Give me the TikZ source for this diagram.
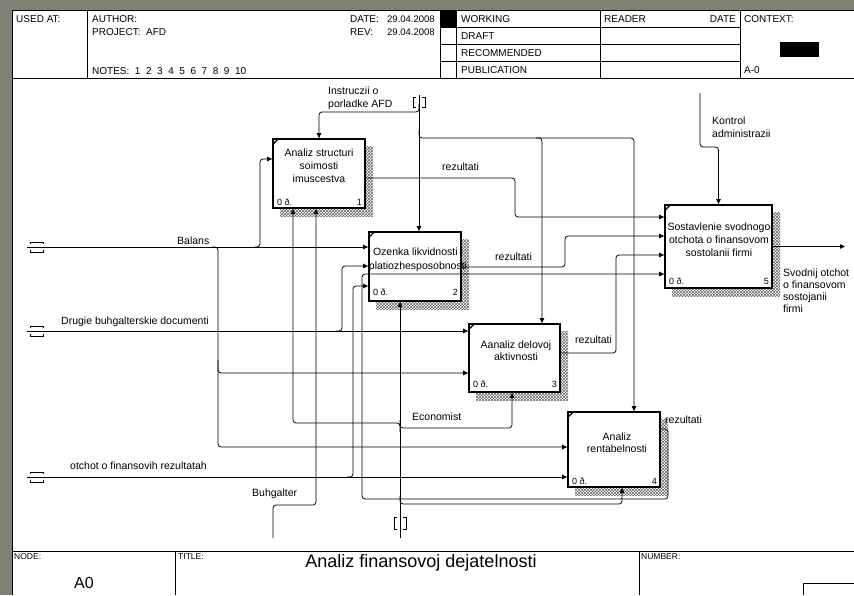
\documentclass[tikz,border=0pt]{standalone}
\usepackage{fontspec}
\setmainfont{Liberation Sans}
\usetikzlibrary{arrows.meta,patterns}
\definecolor{bggrey}{RGB}{126,129,116}
\begin{document}
\begin{tikzpicture}[x=1pt,y=-1pt,
  conn/.style={line width=0.75pt, rounded corners=3pt},
  arr/.style={conn,-{Triangle[length=5pt,width=4.5pt]}},
  fbox/.style={draw, line width=1.8pt, fill=white, inner sep=0pt},
  shade/.style={pattern=crosshatch, pattern color=black!60},
  hline/.style={line width=0.7pt},
  lbl/.style={font=\fontsize{10.5}{12.5}\selectfont, inner sep=0pt},
  hd/.style={font=\fontsize{10}{11}\selectfont, inner sep=0pt, anchor=west},
  num/.style={font=\fontsize{9}{10}\selectfont, inner sep=0pt}]
\useasboundingbox (0,0) rectangle (854,595);
% page
\fill[bggrey] (0,0) rectangle (854,595);
\fill[white] (12,10) rectangle (854,595);
\draw[hline] (12,595) -- (12,10) -- (854,10);
% header frame
\draw[hline] (12,78) -- (854,78);
\draw[hline] (87,10) -- (87,78);
\draw[hline] (440,10) -- (440,78);
\draw[hline] (456,10) -- (456,78);
\draw[hline] (600,10) -- (600,78);
\draw[hline] (740,10) -- (740,78);
\draw[hline] (440,27) -- (740,27);
\draw[hline] (440,44) -- (740,44);
\draw[hline] (440,61) -- (740,61);
\fill (440,10) rectangle (456,27);
\fill (780,42) rectangle (819,57);
% header texts
\node[hd] (usedat) at (16,19) {USED AT:};
\node[hd] (author) at (92,19) {AUTHOR:};
\node[hd] (project) at (92,32) {PROJECT:\ \ AFD};
\node[hd] (notes) at (92,71) {NOTES:\ \ 1\ \ 2\ \ 3\ \ 4\ \ 5\ \ 6\ \ 7\ \ 8\ \ 9\ \ 10};
\node[hd] (datel) at (350,19) {DATE:};
\node[hd,font=\fontsize{9.5}{11}\selectfont] (datev) at (387,19) {29.04.2008};
\node[hd] (revl) at (350,32) {REV:};
\node[hd,font=\fontsize{9.5}{11}\selectfont] (revv) at (387,32) {29.04.2008};
\node[hd] (working) at (461,19) {WORKING};
\node[hd] (draft) at (461,36) {DRAFT};
\node[hd] (recom) at (461,53) {RECOMMENDED};
\node[hd] (publ) at (461,70) {PUBLICATION};
\node[hd] (reader) at (604,19) {READER};
\node[hd,anchor=east] (rdate) at (736,19) {DATE};
\node[hd] (context) at (744,19) {CONTEXT:};
\node[hd] (actx) at (744,70) {A-0};
% footer
\draw[hline] (12,551) -- (854,551);
\draw[hline] (175,551) -- (175,595);
\draw[hline] (639,551) -- (639,595);
\draw[hline] (803,595) -- (803,583) -- (854,583);
\node[hd,font=\fontsize{8.5}{10}\selectfont] (nodel) at (14,557) {NODE:};
\node[inner sep=0pt,font=\fontsize{16}{18}\selectfont] (nodev) at (84,583) {A0};
\node[hd,font=\fontsize{8.5}{10}\selectfont] (titlel) at (178,557) {TITLE:};
\node[inner sep=0pt,font=\fontsize{18}{20}\selectfont] (title) at (421,563) {Analiz finansovoj dejatelnosti};
\node[hd,font=\fontsize{8.5}{10}\selectfont] (numberl) at (641,557) {NUMBER:};
% shadows
\fill[shade] (280,146) rectangle (373,216);
\fill[shade] (376,239) rectangle (469,309);
\fill[shade] (476,331) rectangle (568,400);
\fill[shade] (575,419) rectangle (668,495);
\fill[shade] (672,212) rectangle (780,296);
% boxes
\node[fbox, minimum width=92pt, minimum height=69pt] (b1) at (319,173.5) {};
\node[fbox, minimum width=92pt, minimum height=69pt] (b2) at (415,266.5) {};
\node[fbox, minimum width=91pt, minimum height=68pt] (b3) at (514.5,358) {};
\node[fbox, minimum width=92pt, minimum height=75pt] (b4) at (614,449.5) {};
\node[fbox, minimum width=107pt, minimum height=83pt] (b5) at (718.5,246.5) {};
% corner marks
\foreach \b in {b1,b2,b3,b4,b5}{
  \draw[line width=1.3pt] ([shift={(1,6)}]\b.north west) -- ([shift={(6,1)}]\b.north west);
}
% box texts
\node[lbl,align=center,font=\fontsize{10.5}{13}\selectfont] (t1) at (319,166) {Analiz structuri\\soimosti\\imuscestva};
\node[lbl,align=center,font=\fontsize{10.5}{14}\selectfont] (t2) at (418,259.5) {Ozenka likvidnosti i\\platiozhesposobnosti};
\node[lbl,align=center,font=\fontsize{10.5}{12.3}\selectfont] (t3) at (516,351) {Aanaliz delovoj\\aktivnosti};
\node[lbl,align=center,font=\fontsize{10.5}{12.3}\selectfont] (t4) at (617,443) {Analiz\\rentabelnosti};
\node[lbl,align=center,font=\fontsize{10.5}{13}\selectfont] (t5) at (719,240) {Sostavlenie svodnogo\\otchota o finansovom\\sostolanii firmi};
% box numbers
\node[num,anchor=west] (n1a) at (277,202) {0 ð.};
\node[num,anchor=east] (n1b) at (362,202) {1};
\node[num,anchor=west] (n2a) at (373,292) {0 ð.};
\node[num,anchor=east] (n2b) at (458,292) {2};
\node[num,anchor=west] (n3a) at (473,384) {0 ð.};
\node[num,anchor=east] (n3b) at (557,384) {3};
\node[num,anchor=west] (n4a) at (572,481) {0 ð.};
\node[num,anchor=east] (n4b) at (657,481) {4};
\node[num,anchor=west] (n5a) at (669,281) {0 ð.};
\node[num,anchor=east] (n5b) at (769,281) {5};
% tunnel / boundary coordinates
\coordinate (tB) at (27,247);
\coordinate (tD) at (27,331);
\coordinate (tO) at (27,477);
\coordinate (tI) at (419,95);
\coordinate (tE) at (400,538);
\coordinate (tBu) at (273,538);
\coordinate (tK) at (700,93);
\coordinate (oS) at (845,246.5);
% tunnel brackets (left)
\foreach \yy in {247,331,477}{
  \draw[line width=0.7pt] (30,\yy-3) -- (30,\yy-5) -- (43,\yy-5) -- (43,\yy-3);
  \draw[line width=0.7pt] (30,\yy+3) -- (30,\yy+5) -- (43,\yy+5) -- (43,\yy+3);
}
% tunnel brackets (top, bottom)
\draw[line width=0.7pt] (416,97) -- (413,97) -- (413,107) -- (416,107);
\draw[line width=0.7pt] (422,97) -- (425,97) -- (425,107) -- (422,107);
\draw[line width=0.7pt] (397,517) -- (394,517) -- (394,529) -- (397,529);
\draw[line width=0.7pt] (403,517) -- (406,517) -- (406,529) -- (403,529);
% Balans
\draw[arr] (tB) -- (b2.west |- tB);
\draw[arr] (254,247) -- (260,247) -- (260,159) -- (b1.west |- 0,159);
\draw[arr] (212,247) -- (218,247) -- (218,373) -- (b3.west |- 0,373);
\draw[arr] (218,360) -- (218,447) -- (b4.west |- 0,447);
% Drugie buhgalterskie documenti
\draw[arr] (tD) -- (b3.west |- tD);
\draw[arr] (336,331) -- (342,331) -- (342,266) -- (b2.west |- 0,266);
% otchot o finansovih rezultatah
\draw[arr] (tO) -- (b4.west |- tO);
\draw[arr] (347,477) -- (353,477) -- (353,286) -- (b2.west |- 0,286);
% Instruczii
\draw[arr] (tI) -- (b2.north -| tI);
\draw[arr] (419,104) -- (419,112) -- (319,112) -- (b1.north -| 319,0);
\draw[arr] (419,130) -- (419,138) -- (542,138) -- (b3.north -| 542,0);
\draw[arr] (536,138) -- (634,138) -- (b4.north -| 634,0);
% Kontrol
\draw[arr] (tK) -- (700,147) -- (718.5,147) -- (b5.north);
% outputs
\draw[arr] (b5.east) -- (oS);
\draw[arr] (b1.east |- 0,178) -- (515,178) -- (515,217) -- (b5.west |- 0,217);
\draw[arr] (b2.east |- 0,267) -- (565,267) -- (565,236) -- (b5.west |- 0,236);
\draw[arr] (b3.east |- 0,353) -- (616,353) -- (616,255) -- (b5.west |- 0,255);
\draw[arr] (b4.east |- 0,429) -- (668,429) -- (668,499) -- (362,499) -- (362,274) -- (b5.west |- 0,274);
% Buhgalter
\draw[arr] (tBu) -- (273,505) -- (316,505) -- (b1.south -| 316,0);
% Economist
\draw[arr] (tE) -- (b2.south -| tE);
\draw[arr] (400,432) -- (400,423) -- (293,423) -- (b1.south -| 293,0);
\draw[arr] (400,420) -- (400,428) -- (512,428) -- (b3.south -| 512,0);
\draw[arr] (400,496) -- (400,504) -- (622,504) -- (b4.south -| 622,0);
% arrow labels
\node[lbl,anchor=west,align=left] (lI) at (328,98.5) {Instruczii o\\porladke AFD};
\node[lbl,anchor=west] (lB) at (177,241) {Balans};
\node[lbl,anchor=west] (lD) at (61,322) {Drugie buhgalterskie documenti};
\node[lbl,anchor=west] (lO) at (70,466) {otchot o finansovih rezultatah};
\node[lbl,anchor=west] (lBu) at (252,494) {Buhgalter};
\node[lbl,anchor=west] (lE) at (412,417) {Economist};
\node[lbl,anchor=west] (lr1) at (442,167) {rezultati};
\node[lbl,anchor=west] (lr2) at (495,257) {rezultati};
\node[lbl,anchor=west] (lr3) at (575,340) {rezultati};
\node[lbl,anchor=west] (lr4) at (665,420) {rezultati};
\node[lbl,anchor=west,align=left] (lK) at (712,127) {Kontrol\\administrazii};
\node[lbl,anchor=west,align=left,font=\fontsize{10.5}{12}\selectfont] (lS) at (783,291) {Svodnij otchot\\o finansovom\\sostojanii\\firmi};
\end{tikzpicture}
\end{document}
